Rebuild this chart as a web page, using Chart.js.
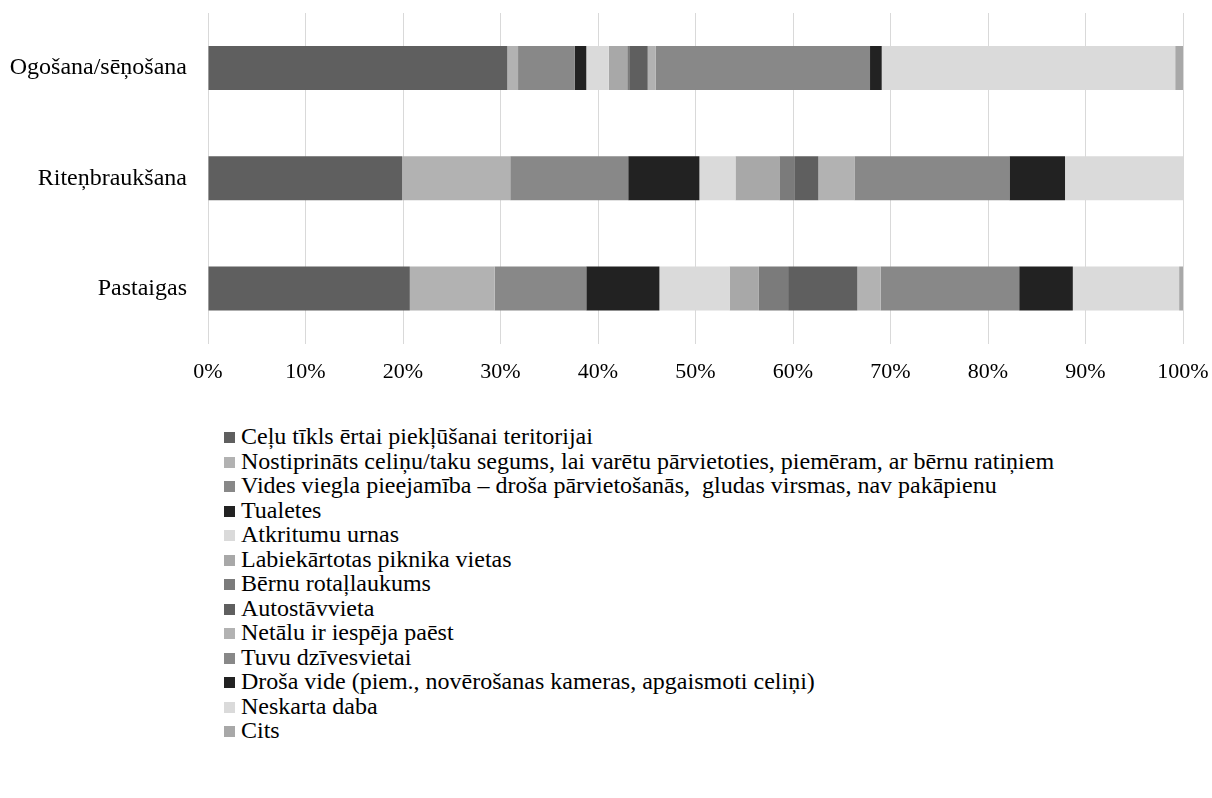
<!DOCTYPE html>
<html>
<head>
<meta charset="utf-8">
<script src="https://cdn.jsdelivr.net/npm/chart.js@4"></script>
<style>
  body { margin: 0; background: #fff; }
  #wrap { position: relative; width: 1212px; height: 400px; }
  #legend { position: absolute; left: 224px; top: 424px; font-family: "Liberation Serif", serif; font-size: 24px; color: #000; }
  #legend div { height: 24.5px; line-height: 24.5px; white-space: pre; }
  #legend span.box { display: inline-block; width: 11px; height: 11px; margin-right: 6px; vertical-align: 1px; }
</style>
</head>
<body>
<div id="wrap"><canvas id="grafiks"></canvas></div>
<div id="legend"></div>
<script>
// kategorijas (no augšas uz leju)
var kategorijas = ["Ogošana/sēņošana", "Riteņbraukšana", "Pastaigas"];

var nosaukumi = [
  "Ceļu tīkls ērtai piekļūšanai teritorijai",
  "Nostiprināts celiņu/taku segums, lai varētu pārvietoties, piemēram, ar bērnu ratiņiem",
  "Vides viegla pieejamība – droša pārvietošanās,  gludas virsmas, nav pakāpienu",
  "Tualetes",
  "Atkritumu urnas",
  "Labiekārtotas piknika vietas",
  "Bērnu rotaļlaukums",
  "Autostāvvieta",
  "Netālu ir iespēja paēst",
  "Tuvu dzīvesvietai",
  "Droša vide (piem., novērošanas kameras, apgaismoti celiņi)",
  "Neskarta daba",
  "Cits"
];

// vērtības % (Ogošana, Riteņbraukšana, Pastaigas)
var celuTikls   = [30.7, 19.9, 20.7];
var segums      = [1.1, 11.1, 8.7];
var pieejamiba  = [5.8, 12.1, 9.4];
var tualetes    = [1.2, 7.3, 7.5];
var urnas       = [2.3, 3.7, 7.2];
var pikniks     = [1.9, 4.5, 3.0];
var rotallauk   = [0.2, 1.6, 3.0];
var autostav    = [1.9, 2.4, 7.1];
var paest       = [0.8, 3.7, 2.4];
var tuvu        = [22.0, 15.9, 14.2];
var drosaVide   = [1.2, 5.7, 5.5];
var daba        = [30.1, 12.1, 10.9];
var cits        = [0.8, 0, 0.4];

var xTicks = [0, 10, 20, 30, 40, 50, 60, 70, 80, 90, 100];

var vertibas = [celuTikls, segums, pieejamiba, tualetes, urnas, pikniks, rotallauk,
                autostav, paest, tuvu, drosaVide, daba, cits];
var krasas = ["#5f5f5f", "#b2b2b2", "#888888", "#222222", "#dadada", "#a8a8a8", "#7b7b7b",
              "#5f5f5f", "#b2b2b2", "#888888", "#222222", "#dadada", "#a8a8a8"];

var datasets = [];
for (var i = 0; i < vertibas.length; i++) {
  datasets.push({
    label: nosaukumi[i],
    data: vertibas[i],
    backgroundColor: krasas[i],
    borderWidth: 0,
    barPercentage: 1,
    categoryPercentage: 0.4
  });
}

var ctx = document.getElementById("grafiks");
var grafiks = new Chart(ctx, {
  type: 'bar',
  data: { labels: kategorijas, datasets: datasets },
  options: {
    indexAxis: 'y',
    responsive: true,
    maintainAspectRatio: false,
    animation: false,
    layout: { padding: { top: 13, right: 29, left: 0, bottom: 0 } },
    plugins: {
      legend: { display: false },
      tooltip: { enabled: false }
    },
    scales: {
      x: {
        stacked: true,
        min: 0,
        max: 100,
        afterBuildTicks: function(scale) {
          scale.ticks = xTicks.map(function(v) { return { value: v }; });
        },
        afterFit: function(scale) {
          scale.height = 56.5;
          scale.paddingLeft = 0; scale.paddingRight = 0;
        },
        grid: { color: "#d9d9d9", lineWidth: 1, drawTicks: false },
        border: { display: false },
        ticks: {
          color: "#000",
          font: { family: "Liberation Serif", size: 22 },
          padding: 16,
          maxRotation: 0,
          callback: function(v) { return v + "%"; }
        }
      },
      y: {
        stacked: true,
        afterFit: function(scale) {
          scale.width = 208;
          scale.paddingTop = 0; scale.paddingBottom = 0;
        },
        grid: { display: false, drawTicks: false },
        border: { display: false },
        ticks: { color: "#000", font: { family: "Liberation Serif", size: 24 }, padding: 21 }
      }
    }
  }
});

// leģenda
var leg = document.getElementById("legend");
grafiks.data.datasets.forEach(function(ds) {
  var row = document.createElement("div");
  var box = document.createElement("span");
  box.className = "box";
  box.style.background = ds.backgroundColor;
  row.appendChild(box);
  row.appendChild(document.createTextNode(ds.label));
  leg.appendChild(row);
});
</script>
</body>
</html>
